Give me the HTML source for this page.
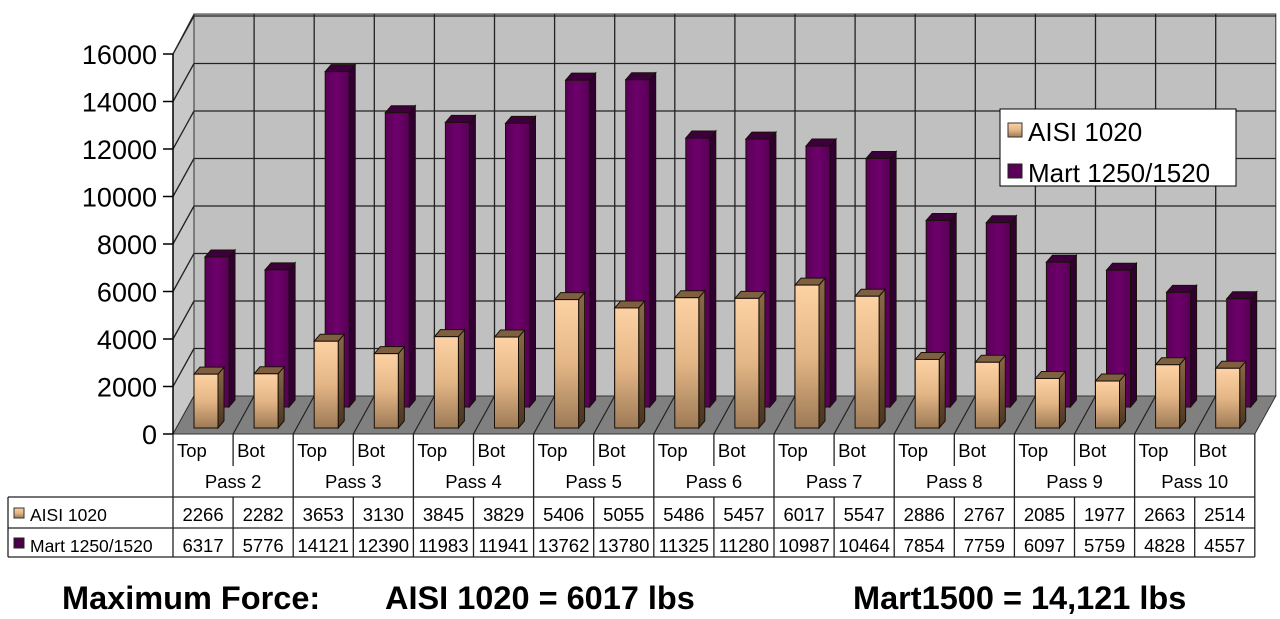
<!DOCTYPE html>
<html><head><meta charset="utf-8"><style>
html,body{margin:0;padding:0;background:#fff;}
svg{display:block;font-family:"Liberation Sans",Arial,sans-serif;}
</style></head><body>
<svg id="chart" width="1280" height="619" viewBox="0 0 1280 619">
<defs>
<linearGradient id="gGold" x1="0" y1="0" x2="0" y2="1"><stop offset="0" stop-color="#fdd2a4"/><stop offset="0.5" stop-color="#e4b686"/><stop offset="1" stop-color="#9c7a56"/></linearGradient>
<linearGradient id="gGoldSide" x1="0" y1="0" x2="0" y2="1"><stop offset="0" stop-color="#8a6a48"/><stop offset="1" stop-color="#4a3520"/></linearGradient>
<linearGradient id="gPurp" x1="0" y1="0" x2="1" y2="0"><stop offset="0" stop-color="#5a0058"/><stop offset="0.5" stop-color="#6e006c"/><stop offset="1" stop-color="#560054"/></linearGradient>
</defs>
<g id="frame"></g>
<g id="bars"></g>
<g id="table"></g>
<g>
<rect x="1000" y="109" width="236" height="77" fill="#fff" stroke="#000" stroke-width="1"/>
<rect x="1008" y="123" width="14" height="14" fill="url(#gGold)" stroke="#333"/>
<text x="1028" y="141" font-size="26">AISI 1020</text>
<rect x="1008" y="164" width="14" height="14" fill="#5a0058" stroke="#222"/>
<text x="1028" y="182" font-size="26">Mart 1250/1520</text>
</g>
<g font-size="32.5" font-weight="bold">
<text x="62" y="609">Maximum Force:</text>
<text x="385" y="609">AISI 1020 = 6017 lbs</text>
<text x="853" y="609">Mart1500 = 14,121 lbs</text>
</g>
</svg>
<script>
const passes = ["Pass 2","Pass 3","Pass 4","Pass 5","Pass 6","Pass 7","Pass 8","Pass 9","Pass 10"];
const positions = ["Top","Bot"];
const aisi = [2266,2282,3653,3130,3845,3829,5406,5055,5486,5457,6017,5547,2886,2767,2085,1977,2663,2514];
const mart = [6317,5776,14121,12390,11983,11941,13762,13780,11325,11280,10987,10464,7854,7759,6097,5759,4828,4557];
const yTicks = [0,2000,4000,6000,8000,10000,12000,14000,16000];

const NS="http://www.w3.org/2000/svg";
function mk(parent,tag,attrs,text){const e=document.createElementNS(NS,tag);for(const k in attrs)e.setAttribute(k,attrs[k]);if(text!==undefined)e.textContent=text;parent.appendChild(e);return e;}
const X0=173, CW=60.1, Y0=434, PX=23.75/1000, DX=21, DY=-38;
const N=aisi.length;
const xCat=i=>X0+CW*i;
const yv=v=>Y0-v*PX;
const XR=X0+CW*N;
const frame=document.getElementById('frame');
const wall=mk(frame,'rect',{x:X0+DX,y:yv(16000)+DY-2,width:XR-X0,height:(Y0+DY)-(yv(16000)+DY-2),fill:'#c0c0c0',stroke:'#333'});

const side=mk(frame,'polygon',{points:`${X0},${Y0} ${X0},${yv(16000)} ${X0+DX},${yv(16000)+DY-2} ${X0+DX},${Y0+DY}`,fill:'#c8c8c8',stroke:'#333'});

const floor=mk(frame,'polygon',{points:`${X0},${Y0} ${XR},${Y0} ${XR+DX},${Y0+DY} ${X0+DX},${Y0+DY}`,fill:'#808080',stroke:'#333'});

for(let i=1;i<N;i++){
  const l=mk(frame,'line',{x1:X0+DX+CW*i,y1:yv(16000)+DY-2,x2:X0+DX+CW*i,y2:Y0+DY,stroke:'#222','stroke-width':1.3});
  
  const f=mk(frame,'line',{x1:xCat(i),y1:Y0,x2:xCat(i)+DX,y2:Y0+DY,stroke:'#222','stroke-width':1.2});
  
}
yTicks.forEach(t=>{
  const y=yv(t);
  if(t>0){
    const g=mk(frame,'line',{x1:X0+DX,y1:y+DY,x2:XR+DX,y2:y+DY,stroke:'#222','stroke-width':1.3});
    
    const d=mk(frame,'line',{x1:X0,y1:y,x2:X0+DX,y2:y+DY,stroke:'#222','stroke-width':1.3});
    
  }
  const tk=mk(frame,'line',{x1:X0-10,y1:y,x2:X0,y2:y,stroke:'#000','stroke-width':1.5});
  
  const lb=mk(frame,'text',{x:157,y:y+10,'font-size':27,'text-anchor':'end'},String(t));
  
});
mk(frame,'line',{x1:X0,y1:yv(16000),x2:X0,y2:Y0,stroke:'#000','stroke-width':1.5});

const bars=document.getElementById('bars');
function bar(x,base,v,face,side,top,name){
  const W=24,dx=6,dy=-7,h=v*PX,y=base-h;
  const g=mk(bars,'g',{});
  
  
  mk(g,'polygon',{points:`${x+W},${base} ${x+W+dx},${base+dy} ${x+W+dx},${y+dy} ${x+W},${y}`,fill:side,stroke:'#1a1008','stroke-width':1});
  mk(g,'polygon',{points:`${x},${y} ${x+dx},${y+dy} ${x+W+dx},${y+dy} ${x+W},${y}`,fill:top,stroke:'#1a1008','stroke-width':1});
  mk(g,'rect',{x:x,y:y,width:W,height:h,fill:face,stroke:'#1a1008','stroke-width':1});
}
for(let i=0;i<N;i++) bar(xCat(i)+32,407,mart[i],'url(#gPurp)','#300030','#3c003a','bar-mart-'+i);
for(let i=0;i<N;i++) bar(xCat(i)+21,428,aisi[i],'url(#gGold)','url(#gGoldSide)','#7e5f40','bar-aisi-'+i);

const tb=document.getElementById('table');
const L='#222';
function ln(x1,y1,x2,y2){mk(tb,'line',{x1,y1,x2,y2,stroke:L,'stroke-width':1.3});}
ln(X0,Y0,X0,557);ln(XR,Y0,XR,557);
ln(X0,497,XR,497);ln(8,497,X0,497);ln(8,528,XR,528);ln(8,557,XR,557);ln(8,497,8,557);
for(let i=0;i<N;i++){
  const x=xCat(i);
  if(i>0){ if(i%2==0) ln(x,Y0,x,557); else {ln(x,Y0,x,466);ln(x,497,x,557);} }
  const t=mk(tb,'text',{x:x+4,y:457,'font-size':18.5},positions[i%2]);
  
  const a=mk(tb,'text',{x:x+CW/2,y:521,'font-size':18.5,'text-anchor':'middle'},String(aisi[i]));
  
  const m=mk(tb,'text',{x:x+CW/2,y:552,'font-size':18.5,'text-anchor':'middle'},String(mart[i]));
  
}
passes.forEach((p,j)=>{
  const t=mk(tb,'text',{x:xCat(2*j)+CW,y:488,'font-size':18.5,'text-anchor':'middle'},p);
  
});
const s1=mk(tb,'rect',{x:14,y:508,width:10,height:10,fill:'url(#gGold)',stroke:'#333'});

const r1=mk(tb,'text',{x:30,y:521,'font-size':17.5},'AISI 1020');

const s2=mk(tb,'rect',{x:14,y:538,width:10,height:10,fill:'#4a0048',stroke:'#222'});

const r2=mk(tb,'text',{x:30,y:552,'font-size':17.5},'Mart 1250/1520');

</script>
</body></html>
